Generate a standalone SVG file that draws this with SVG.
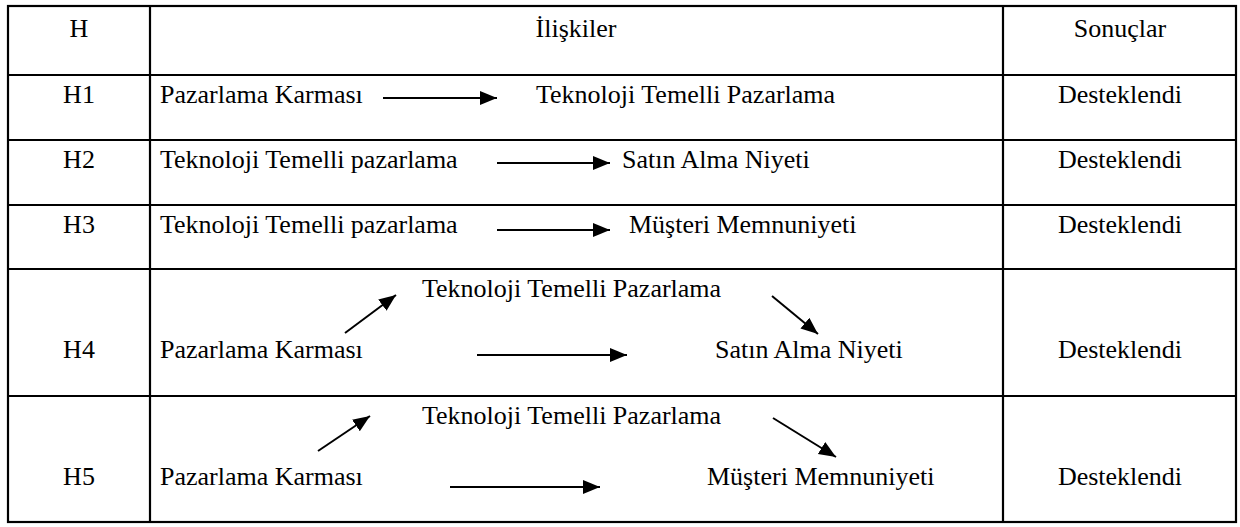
<svg xmlns="http://www.w3.org/2000/svg" width="1240" height="527" viewBox="0 0 1240 527">
<style>
  text { font-family: "Liberation Serif", "Times New Roman", serif; font-size: 26px; fill: #000; }
  .c { text-anchor: middle; }
  .grid { stroke: #000; stroke-width: 2.2; fill: none; }
  .arr { stroke: #000; stroke-width: 2; fill: none; marker-end: url(#ah); }
</style>
<defs>
  <marker id="ah" markerUnits="userSpaceOnUse" markerWidth="19" markerHeight="16" refX="17" refY="7" orient="auto">
    <path d="M0,0 L17,7 L0,14 z" fill="#000"/>
  </marker>
</defs>
<rect width="1240" height="527" fill="#fff"/>
<g id="table" class="grid">
  <rect x="8" y="6" width="1228" height="516"/>
  <line x1="150" y1="6" x2="150" y2="522"/>
  <line x1="1003" y1="6" x2="1003" y2="522"/>
  <line x1="8" y1="75" x2="1236" y2="75"/>
  <line x1="8" y1="140" x2="1236" y2="140"/>
  <line x1="8" y1="205" x2="1236" y2="205"/>
  <line x1="8" y1="269" x2="1236" y2="269"/>
  <line x1="8" y1="396" x2="1236" y2="396"/>
</g>
<g id="header">
  <text class="c" x="79" y="37">H</text>
  <text class="c" x="576" y="37">İlişkiler</text>
  <text class="c" x="1120" y="37">Sonuçlar</text>
</g>
<g id="h1">
  <text class="c" x="79" y="103">H1</text>
  <text x="160" y="103">Pazarlama Karması</text>
  <text x="536" y="103">Teknoloji Temelli Pazarlama</text>
  <text class="c" x="1120" y="103">Desteklendi</text>
</g>
<g id="h2">
  <text class="c" x="79" y="168">H2</text>
  <text x="160" y="168">Teknoloji Temelli pazarlama</text>
  <text x="622" y="168">Satın Alma Niyeti</text>
  <text class="c" x="1120" y="168">Desteklendi</text>
</g>
<g id="h3">
  <text class="c" x="79" y="233">H3</text>
  <text x="160" y="233">Teknoloji Temelli pazarlama</text>
  <text x="629" y="233">Müşteri Memnuniyeti</text>
  <text class="c" x="1120" y="233">Desteklendi</text>
</g>
<g id="h4">
  <text x="422" y="297">Teknoloji Temelli Pazarlama</text>
  <text class="c" x="79" y="358">H4</text>
  <text x="160" y="358">Pazarlama Karması</text>
  <text x="715" y="358">Satın Alma Niyeti</text>
  <text class="c" x="1120" y="358">Desteklendi</text>
</g>
<g id="h5">
  <text x="422" y="424">Teknoloji Temelli Pazarlama</text>
  <text class="c" x="79" y="485">H5</text>
  <text x="160" y="485">Pazarlama Karması</text>
  <text x="707" y="485">Müşteri Memnuniyeti</text>
  <text class="c" x="1120" y="485">Desteklendi</text>
</g>
<g id="connectors">
  <line class="arr" x1="383" y1="98" x2="497" y2="98"/>
  <line class="arr" x1="497" y1="163" x2="610" y2="163"/>
  <line class="arr" x1="497" y1="230" x2="610" y2="230"/>
  <line class="arr" x1="345" y1="333" x2="396" y2="295"/>
  <line class="arr" x1="772" y1="296" x2="818" y2="334"/>
  <line class="arr" x1="477" y1="355" x2="627" y2="355"/>
  <line class="arr" x1="318" y1="451" x2="370" y2="416"/>
  <line class="arr" x1="773" y1="418" x2="836" y2="457"/>
  <line class="arr" x1="450" y1="487" x2="600" y2="487"/>
</g>
</svg>
